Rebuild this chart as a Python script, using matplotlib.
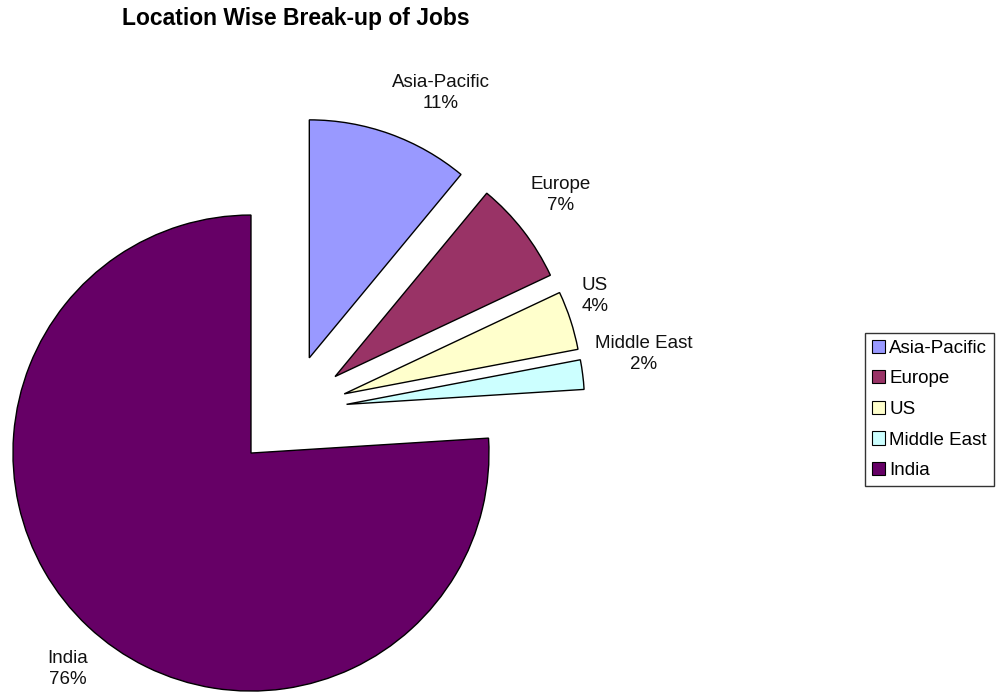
import matplotlib
matplotlib.use("Agg")
import matplotlib.pyplot as plt

categories = ["Asia-Pacific", "Europe", "US", "Middle East", "India"]
shares = [11, 7, 4, 2, 76]
colors = ["#9999FF", "#993366", "#FFFFCC", "#CCFFFF", "#660066"]
title = "Location Wise Break-up of Jobs"

# layout: label centres in pixel coordinates (from top-left)
label_px = [(441, 93), (561, 195), (595, 296), (644, 354), (68, 669)]

plt.rcParams['font.family'] = ['Liberation Sans', 'DejaVu Sans']

W, H = 998, 693
fig = plt.figure(figsize=(W / 100, H / 100), dpi=100)
ax = fig.add_axes([0, 0, 1, 1])

radius = 238
center = (290, H - 411.5)
explode = [57] * len(shares)

labels = [f"{c}\n{v}%" for c, v in zip(categories, shares)]
wedges, texts = ax.pie(shares, labels=labels, colors=colors, explode=explode,
                       startangle=90, counterclock=False, radius=radius,
                       center=center, labeldistance=1.22,
                       wedgeprops=dict(edgecolor="black", linewidth=1.0),
                       textprops=dict(fontsize=13.5, color="#111111"))
for t, (px, py) in zip(texts, label_px):
    t.set_ha("center")
    t.set_va("center")
    t.set_linespacing(1.35)
    t.set_position((px, H - py))

ax.set_xlim(0, W)
ax.set_ylim(0, H)
ax.set_aspect("equal")
ax.axis("off")

leg = fig.legend(wedges, categories, loc="upper left",
                 bbox_to_anchor=(865 / W, 1 - 333 / H), borderaxespad=0,
                 fancybox=False, frameon=True, edgecolor="black",
                 fontsize=13.5, handlelength=0.7, handleheight=0.7,
                 handletextpad=0.25, labelspacing=0.72, borderpad=0.35)
leg.get_frame().set_linewidth(1.0)
for h in leg.legend_handles:
    h.set_edgecolor("black")
    h.set_linewidth(0.8)

fig.text(122 / W, 1 - 19 / H, title, ha="left", va="center",
         fontsize=16.5, fontweight="bold")

fig.savefig("out.png", dpi=100, facecolor="white")
